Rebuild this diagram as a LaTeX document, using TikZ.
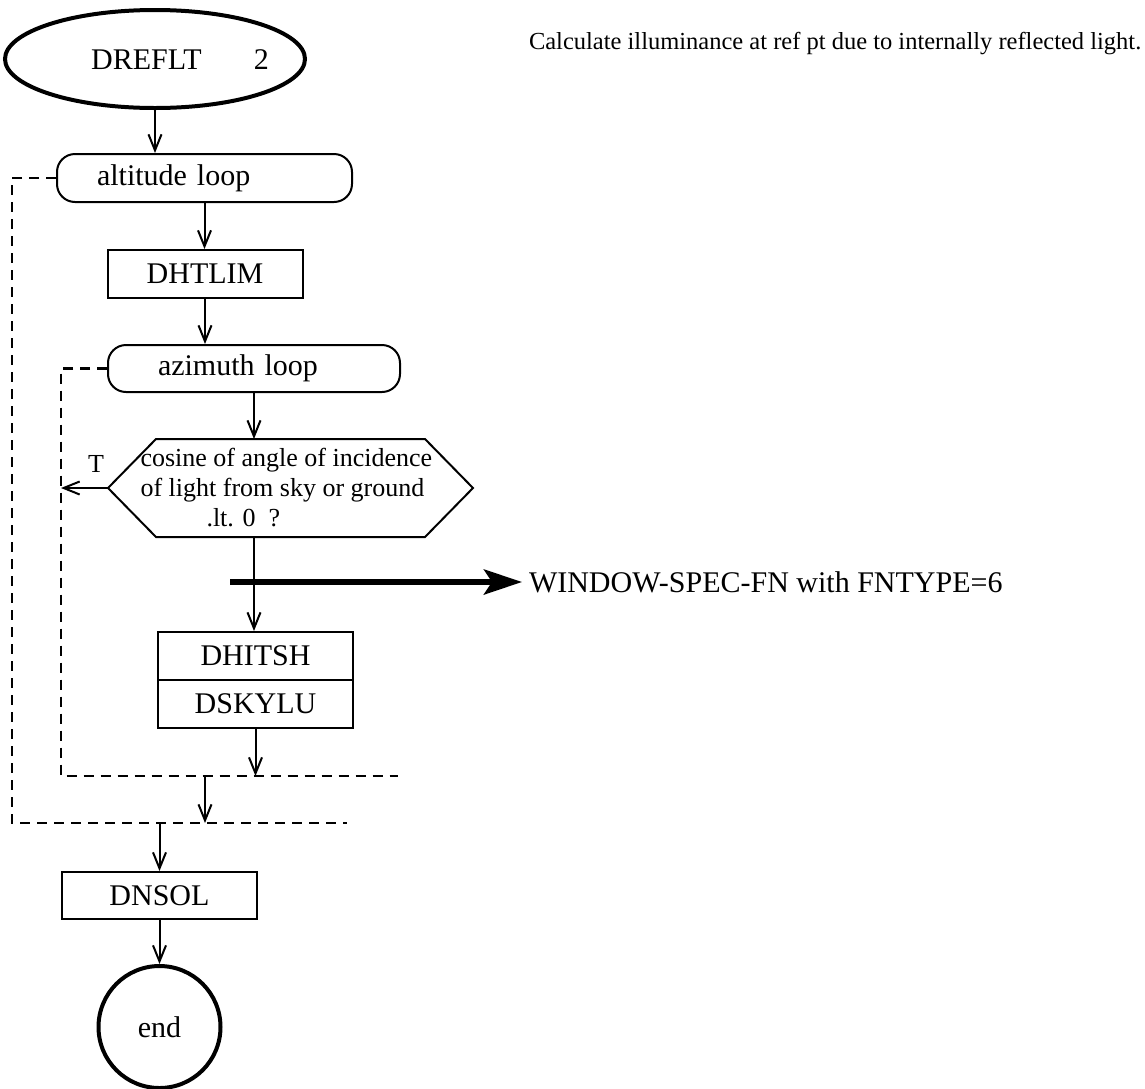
\documentclass[tikz,border=0pt]{standalone}
\usepackage{fontspec}
\setmainfont{Liberation Serif}
\usetikzlibrary{shapes.geometric,arrows.meta,calc}
\begin{document}
\begin{tikzpicture}[x=0.5pt,y=-0.5pt,
  line width=1pt,
  every node/.style={font=\fontsize{15}{17}\selectfont},
  conn/.style={-{Straight Barb[length=8pt,width=6.5pt]}},
  loopline/.style={dash pattern=on 5pt off 3.5pt, line width=1.3pt},
  proc/.style={draw, rectangle, minimum width=97.5pt, minimum height=24pt, inner sep=0pt},
  loopbox/.style={draw, rounded corners=9pt, minimum height=24pt, inner ysep=0pt, align=left},
  termshape/.style={draw, line width=2pt, inner sep=0pt},
  smalltext/.style={font=\fontsize{13}{15}\selectfont}
]
\useasboundingbox (0,0) rectangle (1145,1088);

% nodes
\node[termshape, ellipse, minimum width=150pt, minimum height=49pt] (start) at (155,59) {};
\node[inner sep=0pt] (startlbl) at (180,60) {DREFLT\hspace{26pt}2};
\node[anchor=base west, inner sep=0pt, font=\fontsize{12.25}{14}\selectfont] (note) at (528,49)
  {Calculate illuminance at ref pt due to internally reflected light.};

\node[loopbox, text width=107.5pt, inner xsep=20pt] (alt) at (204.5,178) {altitude loop};
\node[proc] (dhtlim) at (205,274) {DHTLIM};
\node[loopbox, text width=96pt, inner xsep=25pt, minimum height=23.5pt] (azi) at (254,368.5) {azimuth loop};

\node[smalltext, minimum width=181.5pt, minimum height=48pt, inner sep=0pt, align=left] (hex) at (290.5,488)
  {\raisebox{-1.5pt}{\parbox[b]{150pt}{\raggedright cosine of angle of incidence\\of light from sky or ground\\\hspace*{33pt}.lt. 0\ \ ?}}};
\draw (hex.west) -- ([xshift=24pt]hex.north west) -- ([xshift=-24pt]hex.north east) -- (hex.east)
  -- ([xshift=-24pt]hex.south east) -- ([xshift=24pt]hex.south west) -- cycle;
\node[smalltext, inner sep=0pt] (tlbl) at (96,464) {T};

\node[anchor=west, inner xsep=3pt, inner ysep=0pt] (winspec) at (522,582) {WINDOW-SPEC-FN with FNTYPE=6};

\node[proc] (dhitsh) at (255.5,656) {DHITSH};
\node[proc] (dskylu) at (255.5,704) {DSKYLU};

\node[proc, minimum height=23.5pt] (dnsol) at (159.5,895.5) {DNSOL};
\node[termshape, circle, minimum size=61pt] (endn) at (159.5,1027) {end};

% coordinates
\coordinate (ia) at (61,368.5);
\coordinate (ib) at (61,776);
\coordinate (ic) at (398,776);
\coordinate (oa) at (12,178);
\coordinate (ob) at (12,823);
\coordinate (oc) at (347,823);
\coordinate (tk) at (230,582);
\coordinate (tt) at (61,488);

% connectors
\draw[conn] (start.south) -- (start.south |- alt.north);
\draw[conn] (alt.south) -- (alt.south |- dhtlim.north);
\draw[conn] (dhtlim.south) -- (dhtlim.south |- azi.north);
\draw[conn] (azi.south) -- (azi.south |- hex.north);
\draw[conn] (hex.west) -- (tt);
\draw[conn] (azi.south |- hex.south) -- (azi.south |- dhitsh.north);
\draw[conn] (dskylu.south) -- (dskylu.south |- ic);
\draw[conn] (dhtlim.south |- ic) -- (dhtlim.south |- ob);
\draw[conn] (dnsol.north |- ob) -- (dnsol.north);
\draw[conn] (dnsol.south) -- (endn.north);
\draw[loopline] (azi.west) -- (ia) -- (ib) -- (ic);
\draw[loopline] (alt.west) -- (oa) -- (ob) -- (oc);
\draw[line width=3pt, -{Stealth[length=19pt,width=12.5pt,inset=4pt]}] (tk) -- (winspec.west);
\end{tikzpicture}
\end{document}
